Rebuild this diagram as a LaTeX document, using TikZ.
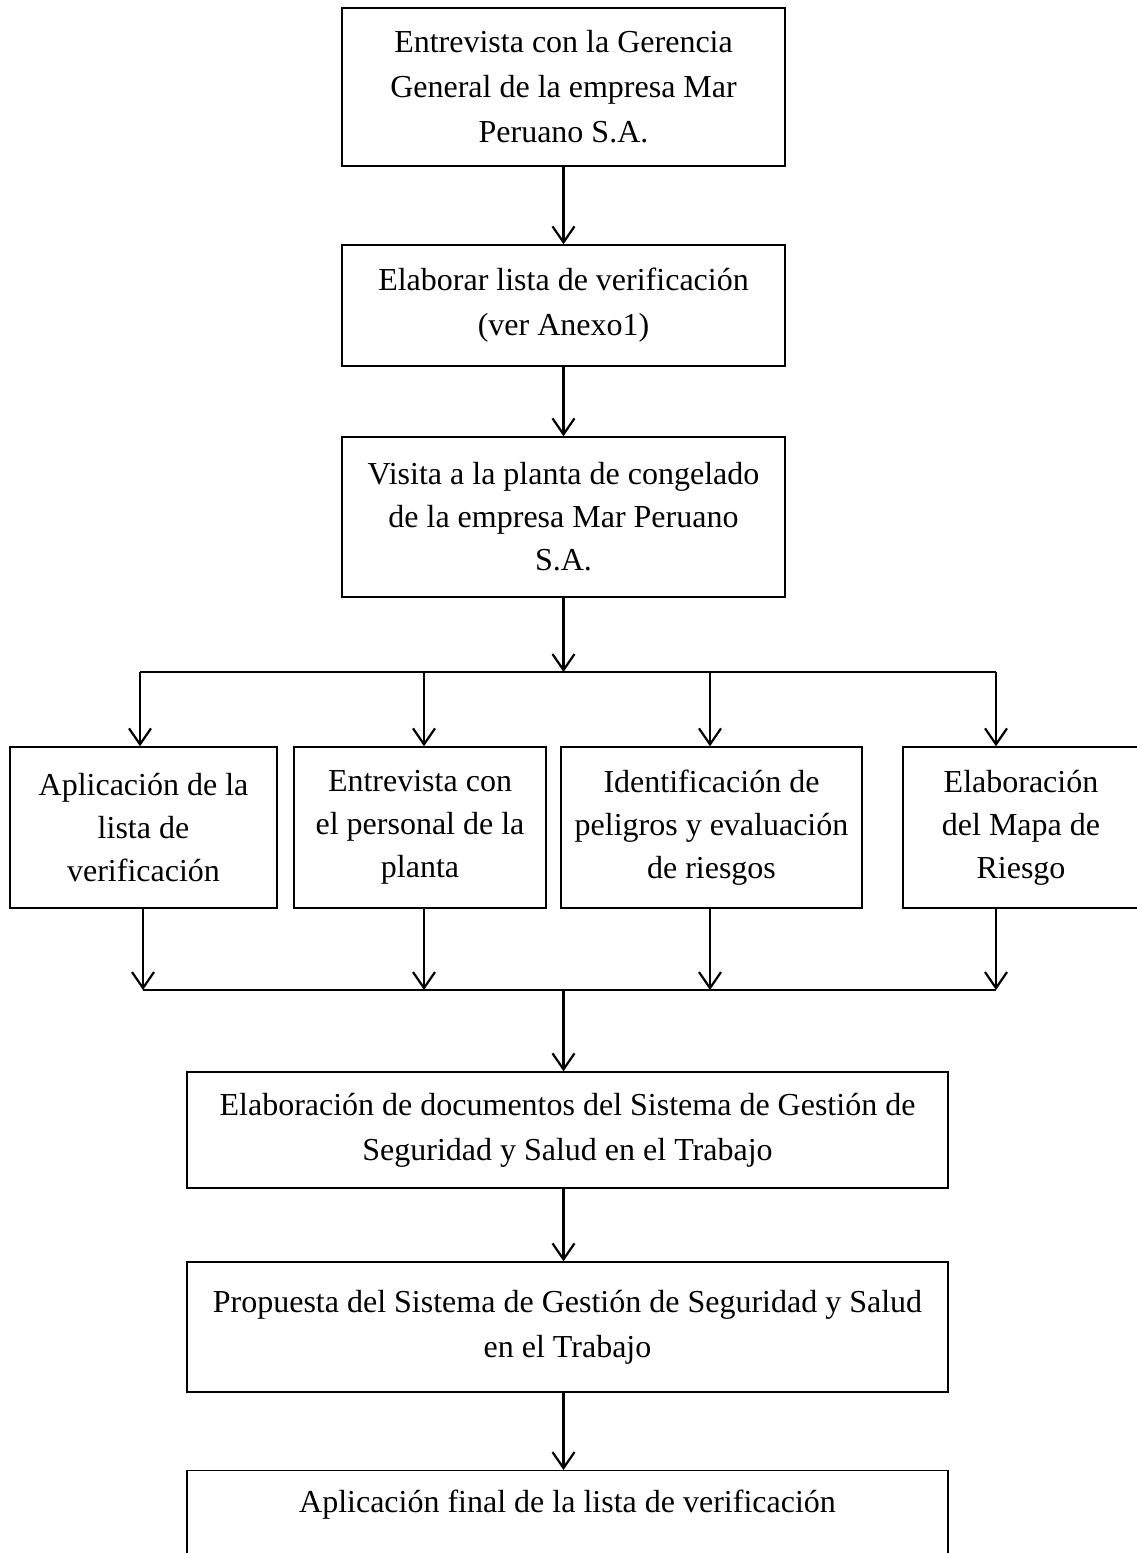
\documentclass[tikz,border=0pt]{standalone}
\usepackage{fontspec}
\setmainfont{Liberation Serif}
\usetikzlibrary{arrows.meta}
\begin{document}
\begin{tikzpicture}[x=1pt,y=-1pt,
  box/.style={draw=black,line width=1.4pt,rectangle,inner sep=0pt,align=center,
    font=\fontsize{32}{45}\selectfont},
  tight/.style={font=\fontsize{32}{43}\selectfont},
  lbl/.style={inner sep=0pt,align=center,font=\fontsize{32}{45}\selectfont},
  arr/.style={line width=2.2pt,-{Straight Barb[length=16pt,width=22pt,line width=2.2pt]}},
  ln/.style={line width=2.2pt}]
\useasboundingbox (0,0) rectangle (1137,1553);
\clip (0,0) rectangle (1137,1553);
\fill[white] (0,0) rectangle (1137,1553);
% top chain
\node[box,minimum width=443pt,minimum height=158pt] (b1) at (563.5,87)
  {Entrevista con la Gerencia\\General de la empresa Mar\\Peruano S.A.};
\node[box,minimum width=443pt,minimum height=121pt] (b2) at (563.5,305.5)
  {Elaborar lista de verificación\\(ver Anexo1)};
\node[box,tight,minimum width=443pt,minimum height=160pt] (b3) at (563.5,517)
  {Visita a la planta de congelado\\de la empresa Mar Peruano\\S.A.};
% four boxes
\node[box,tight,minimum width=267pt,minimum height=161pt] (a) at (143.5,827.5)
  {Aplicación de la\\lista de\\verificación};
\node[box,tight,minimum width=252pt,minimum height=161pt] (b) at (420,827.5)
  {Entrevista con\\el personal de la\\planta};
\node[box,tight,minimum width=301pt,minimum height=161pt] (c) at (711.5,827.5)
  {Identificación de\\peligros y evaluación\\de riesgos};
\node[box,tight,minimum width=236pt,minimum height=161pt] (d) at (1021,827.5)
  {Elaboración\\del Mapa de\\Riesgo};
% lower chain
\node[box,minimum width=761pt,minimum height=116pt] (e) at (567.5,1130)
  {Elaboración de documentos del Sistema de Gestión de\\Seguridad y Salud en el Trabajo};
\node[box,minimum width=761pt,minimum height=130pt] (f) at (567.5,1327)
  {Propuesta del Sistema de Gestión de Seguridad y Salud\\en el Trabajo};
\node[box,minimum width=761pt,minimum height=140pt,anchor=north] (g) at (567.5,1470) {};
\node[lbl] (gt) at (567.5,1505) {Aplicación final de la lista de verificación};
% junction coordinates
\coordinate (s) at (563.5,672);
\coordinate (s1) at (140,672);
\coordinate (s2) at (424,672);
\coordinate (s3) at (710,672);
\coordinate (s4) at (996,672);
\coordinate (m) at (563.5,990);
\coordinate (m1) at (143,990);
\coordinate (m2) at (424,990);
\coordinate (m3) at (710,990);
\coordinate (m4) at (996,990);
% connectors
\draw[arr] (b1.south) -- (b2.north);
\draw[arr] (b2.south) -- (b3.north);
\draw[arr] (b3.south) -- (s);
\draw[ln] (s1) -- (s4);
\draw[arr] (s1) -- (s1 |- a.north);
\draw[arr] (s2) -- (s2 |- b.north);
\draw[arr] (s3) -- (s3 |- c.north);
\draw[arr] (s4) -- (s4 |- d.north);
\draw[arr] (m1 |- a.south) -- (m1);
\draw[arr] (m2 |- b.south) -- (m2);
\draw[arr] (m3 |- c.south) -- (m3);
\draw[arr] (m4 |- d.south) -- (m4);
\draw[ln] (m1) -- (m4);
\draw[arr] (m) -- (m |- e.north);
\draw[arr] (m |- e.south) -- (m |- f.north);
\draw[arr] (m |- f.south) -- (m |- g.north);
\end{tikzpicture}
\end{document}
